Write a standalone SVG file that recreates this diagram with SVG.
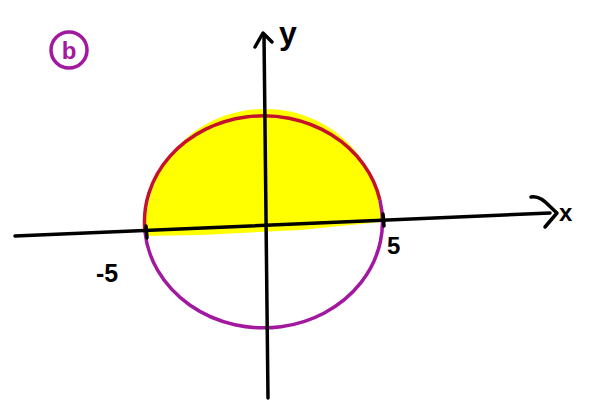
<svg xmlns="http://www.w3.org/2000/svg" width="599" height="404" viewBox="0 0 599 404">
<style>
.ax{fill:none;stroke:#000;stroke-width:3.5;stroke-linecap:round;stroke-linejoin:round}
.lbl{font-family:"Liberation Sans",Arial,sans-serif;font-weight:bold;fill:#000}
</style>
<rect width="599" height="404" fill="#fff"/>
<g id="region">
<path d="M 145 236 C 144 160 200 109 265 109 C 330 109 381 160 381 222 L 300 230 L 200 235 Z" fill="#ffff00"/>
</g>
<g id="circle">
<path d="M 144.9 231 A 119 106 0 0 1 379.9 200" fill="none" stroke="#c4122c" stroke-width="3.5"/>
<path d="M 379.9 200 A 119 106 0 1 1 144.9 231" fill="none" stroke="#a2189f" stroke-width="3.5"/>
</g>
<g id="axes">
<path class="ax" d="M 15 236 L 550 213"/>
<path class="ax" d="M 268 398 L 264 35"/>
<path class="ax" d="M 255 47 L 263 33 L 272 42"/>
<path class="ax" d="M 531 197 C 540 195 546 203 557 213 L 545 227"/>
<path class="ax" d="M 146 226 L 147 238"/>
<path class="ax" d="M 383 214 L 384 226"/>
</g>
<g id="labels">
<text class="lbl" x="96" y="282" font-size="25">-5</text>
<text class="lbl" x="387" y="254" font-size="24">5</text>
<text class="lbl" x="559" y="221" font-size="24">x</text>
<text class="lbl" x="279" y="44" font-size="32">y</text>
</g>
<g id="tag">
<circle cx="69" cy="50" r="18" fill="none" stroke="#a2189f" stroke-width="3.5"/>
<text x="69" y="59" font-family="Liberation Sans,Arial,sans-serif" font-weight="bold" font-size="24" fill="#a2189f" text-anchor="middle">b</text>
</g>
</svg>
